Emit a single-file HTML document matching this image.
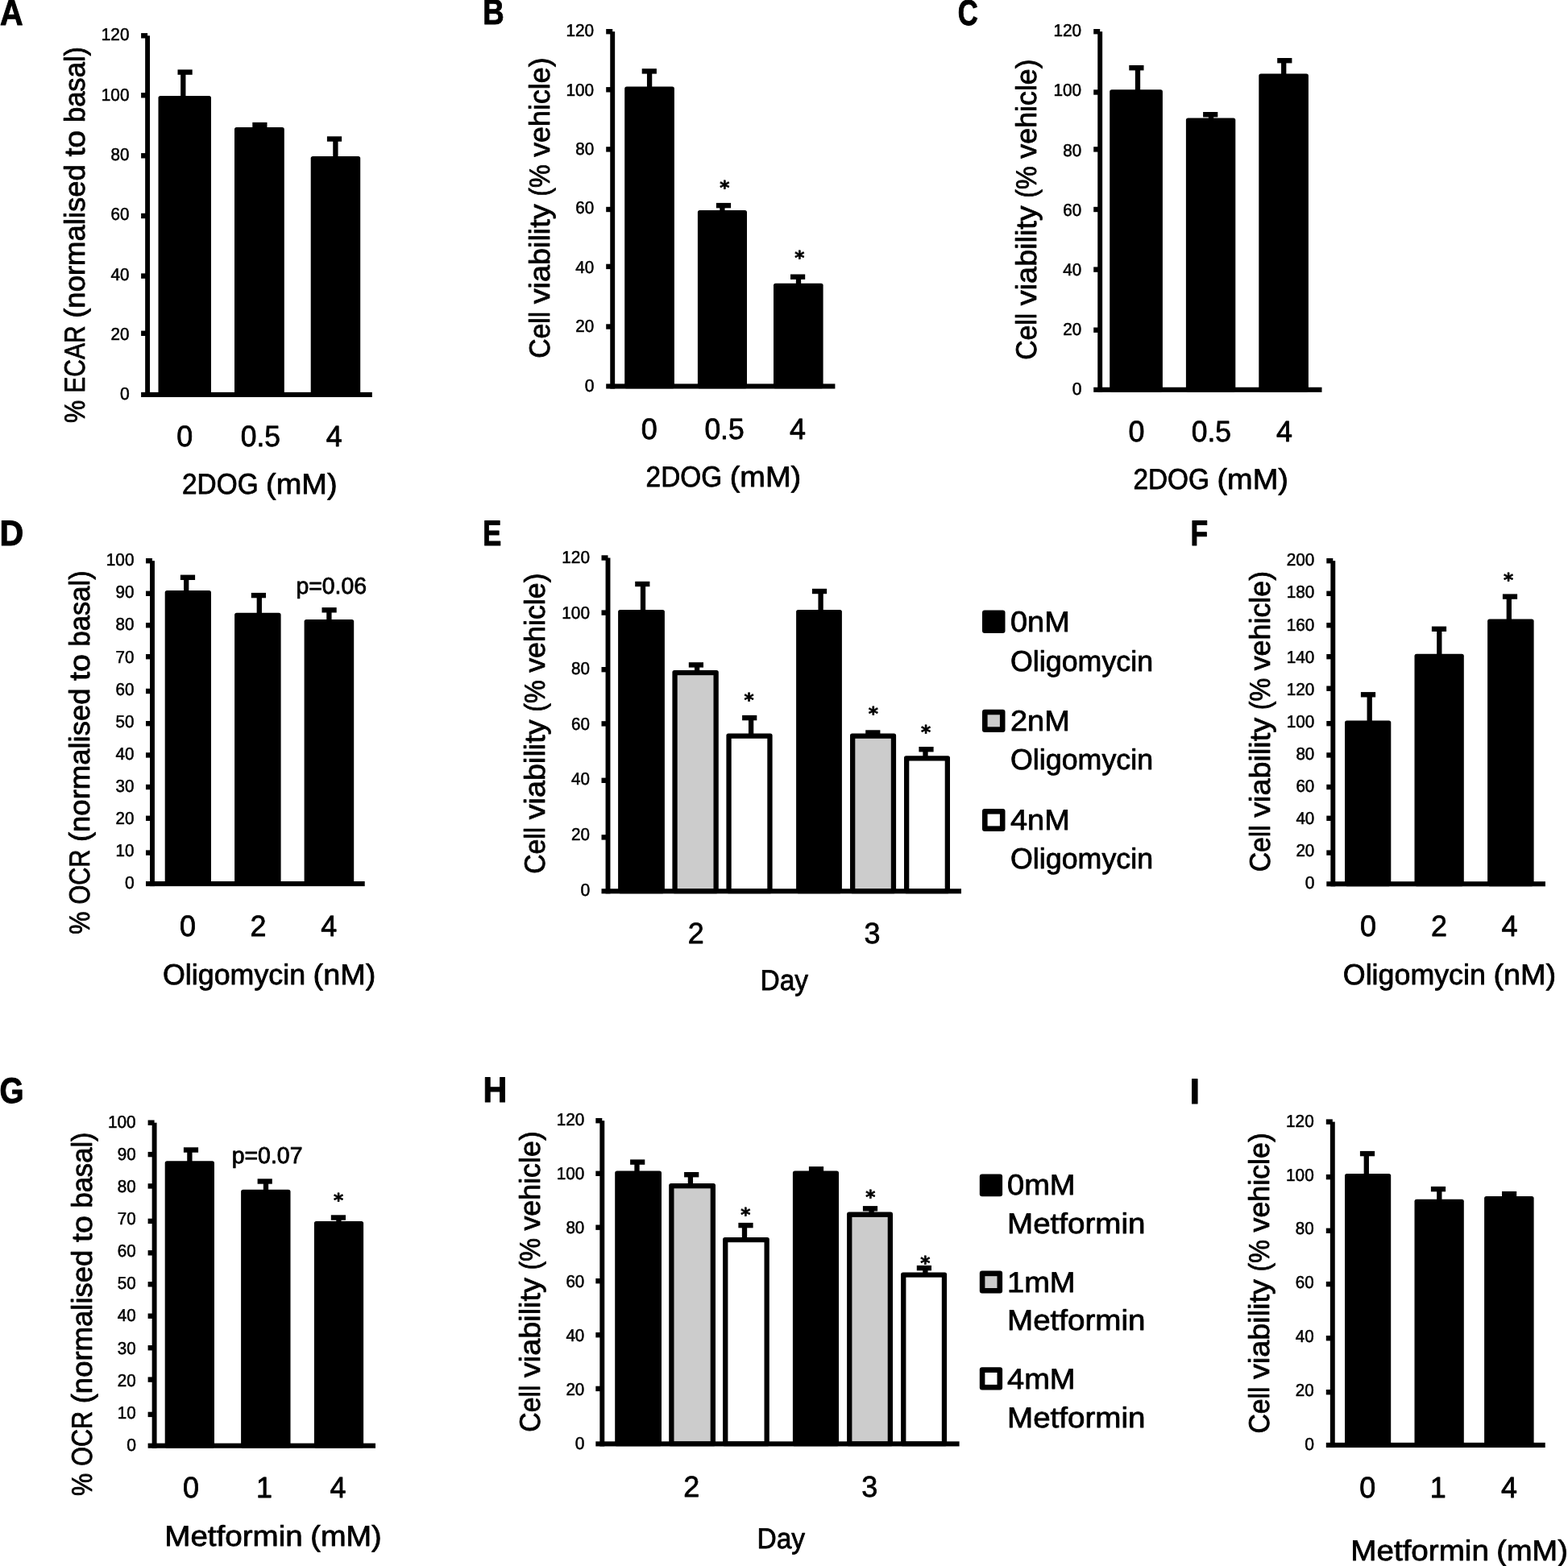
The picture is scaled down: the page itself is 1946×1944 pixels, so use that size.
<!DOCTYPE html>
<html lang="en">
<head>
<meta charset="utf-8">
<title>Figure: 2DOG, Oligomycin and Metformin bar charts</title>
<style>
html,body{margin:0;padding:0;background:#fff;}
body{width:1946px;height:1944px;overflow:hidden;}
svg{display:block;}
svg text{font-family:'Liberation Sans', sans-serif;fill:#000;text-rendering:geometricPrecision;stroke:#000;stroke-width:0.8px;stroke-linejoin:round;}
svg text.t{stroke-width:0.55px;}
svg text.b{stroke-width:1px;}
svg text.a{font-family:'DejaVu Sans','Liberation Sans',sans-serif;font-weight:bold;stroke-width:0.7px;}
</style>
</head>
<body>
<svg width="1946" height="1944" viewBox="0 0 1946 1944">
<rect width="1946" height="1944" fill="#fff"/>
<g id="panel-A">
<text y="30.6" font-size="44.37" font-weight="bold" class="b"><tspan x="0.08" textLength="28.6" lengthAdjust="spacingAndGlyphs">A</tspan></text>
<rect x="224.15" y="87.9" width="6.3" height="34.1" fill="#000"/>
<rect x="220.5" y="86.4" width="18.2" height="6.4" fill="#000"/>
<rect x="196.5" y="119" width="65.5" height="373.8" fill="#000" rx="2.6"/>
<rect x="319.25" y="153.4" width="6.3" height="7.7" fill="#000"/>
<rect x="313.3" y="151.9" width="18.2" height="6.4" fill="#000"/>
<rect x="291" y="158.1" width="61.8" height="334.7" fill="#000" rx="2.6"/>
<rect x="413.25" y="170.8" width="6.3" height="26.1" fill="#000"/>
<rect x="405.9" y="169.3" width="18.2" height="6.4" fill="#000"/>
<rect x="385.7" y="193.9" width="61.5" height="298.9" fill="#000" rx="2.6"/>
<rect x="180.15" y="44.3" width="5.9" height="448.7" fill="#000"/>
<rect x="175.1" y="486.9" width="286.7" height="6.1" fill="#000"/>
<text y="496.05" font-size="21.58" class="t"><tspan x="148.96" textLength="11.76" lengthAdjust="spacingAndGlyphs">0</tspan></text>
<rect x="175.1" y="410.6" width="8" height="6.4" fill="#000"/>
<text y="421.78" font-size="21.58" class="t"><tspan x="137.49" textLength="22.92" lengthAdjust="spacingAndGlyphs">20</tspan></text>
<rect x="175.1" y="339.4" width="8" height="6.4" fill="#000"/>
<text y="347.5" font-size="21.58" class="t"><tspan x="137.49" textLength="22.92" lengthAdjust="spacingAndGlyphs">40</tspan></text>
<rect x="175.1" y="264.8" width="8" height="6.4" fill="#000"/>
<text y="273.23" font-size="21.58" class="t"><tspan x="137.49" textLength="22.92" lengthAdjust="spacingAndGlyphs">60</tspan></text>
<rect x="175.1" y="190.1" width="8" height="6.4" fill="#000"/>
<text y="198.95" font-size="21.58" class="t"><tspan x="137.49" textLength="22.92" lengthAdjust="spacingAndGlyphs">80</tspan></text>
<rect x="175.1" y="115.1" width="8" height="6.4" fill="#000"/>
<text y="124.67" font-size="21.58" class="t"><tspan x="125.77" textLength="34.68" lengthAdjust="spacingAndGlyphs">100</tspan></text>
<rect x="175.1" y="41.1" width="8" height="6.4" fill="#000"/>
<text y="50.4" font-size="21.58" class="t"><tspan x="125.77" textLength="34.68" lengthAdjust="spacingAndGlyphs">120</tspan></text>
<text y="554.3" font-size="36.64"><tspan x="219.15" textLength="19.97" lengthAdjust="spacingAndGlyphs">0</tspan></text>
<text y="554.3" font-size="36.64"><tspan x="298.72" textLength="49.29" lengthAdjust="spacingAndGlyphs">0.5</tspan></text>
<text y="554.3" font-size="36.64"><tspan x="404.8" textLength="19.97" lengthAdjust="spacingAndGlyphs">4</tspan></text>
<text y="613.1" font-size="35.85"><tspan x="226.06" textLength="94.55" lengthAdjust="spacingAndGlyphs">2DOG</tspan> <tspan x="330.12" textLength="88.46" lengthAdjust="spacingAndGlyphs">(mM)</tspan></text>
<text y="0" font-size="35.85" transform="translate(105 523.8) rotate(-90)"><tspan x="-1.28" textLength="28.16" lengthAdjust="spacingAndGlyphs">%</tspan> <tspan x="36.09" textLength="83.38" lengthAdjust="spacingAndGlyphs">ECAR</tspan> <tspan x="128.98" textLength="190.71" lengthAdjust="spacingAndGlyphs">(normalised</tspan> <tspan x="329.19" textLength="32.99" lengthAdjust="spacingAndGlyphs">to</tspan> <tspan x="371.69" textLength="94.25" lengthAdjust="spacingAndGlyphs">basal)</tspan></text>
</g>
<g id="panel-B">
<text y="30.4" font-size="44.37" font-weight="bold" class="b"><tspan x="599.29" textLength="26.46" lengthAdjust="spacingAndGlyphs">B</tspan></text>
<rect x="802.95" y="86.7" width="6.3" height="23.7" fill="#000"/>
<rect x="796.7" y="85.2" width="18.2" height="6.4" fill="#000"/>
<rect x="775.2" y="107.4" width="61.7" height="374.95" fill="#000" rx="2.6"/>
<rect x="893.25" y="253.4" width="6.3" height="10.5" fill="#000"/>
<rect x="888.9" y="251.9" width="18.2" height="6.4" fill="#000"/>
<rect x="865.9" y="260.9" width="61.1" height="221.45" fill="#000" rx="2.6"/>
<rect x="987.85" y="342" width="6.3" height="12.7" fill="#000"/>
<rect x="981" y="340.5" width="18.2" height="6.4" fill="#000"/>
<rect x="960" y="351.7" width="61.6" height="130.65" fill="#000" rx="2.6"/>
<rect x="757.25" y="39.2" width="5.9" height="443.35" fill="#000"/>
<rect x="752.2" y="476.45" width="284.2" height="6.1" fill="#000"/>
<text y="485.6" font-size="21.58" class="t"><tspan x="725.66" textLength="11.76" lengthAdjust="spacingAndGlyphs">0</tspan></text>
<rect x="752.2" y="402.3" width="8" height="6.4" fill="#000"/>
<text y="412.22" font-size="21.58" class="t"><tspan x="714.19" textLength="22.92" lengthAdjust="spacingAndGlyphs">20</tspan></text>
<rect x="752.2" y="327.7" width="8" height="6.4" fill="#000"/>
<text y="338.83" font-size="21.58" class="t"><tspan x="714.19" textLength="22.92" lengthAdjust="spacingAndGlyphs">40</tspan></text>
<rect x="752.2" y="256.8" width="8" height="6.4" fill="#000"/>
<text y="265.45" font-size="21.58" class="t"><tspan x="714.19" textLength="22.92" lengthAdjust="spacingAndGlyphs">60</tspan></text>
<rect x="752.2" y="182.2" width="8" height="6.4" fill="#000"/>
<text y="192.07" font-size="21.58" class="t"><tspan x="714.19" textLength="22.92" lengthAdjust="spacingAndGlyphs">80</tspan></text>
<rect x="752.2" y="108.1" width="8" height="6.4" fill="#000"/>
<text y="118.68" font-size="21.58" class="t"><tspan x="702.47" textLength="34.68" lengthAdjust="spacingAndGlyphs">100</tspan></text>
<rect x="752.2" y="36" width="8" height="6.4" fill="#000"/>
<text y="45.3" font-size="21.58" class="t"><tspan x="702.47" textLength="34.68" lengthAdjust="spacingAndGlyphs">120</tspan></text>
<text y="544.8" font-size="36.64"><tspan x="795.85" textLength="19.97" lengthAdjust="spacingAndGlyphs">0</tspan></text>
<text y="544.8" font-size="36.64"><tspan x="874.42" textLength="49.29" lengthAdjust="spacingAndGlyphs">0.5</tspan></text>
<text y="544.8" font-size="36.64"><tspan x="979.9" textLength="19.97" lengthAdjust="spacingAndGlyphs">4</tspan></text>
<text y="603.7" font-size="35.85"><tspan x="801.61" textLength="94.55" lengthAdjust="spacingAndGlyphs">2DOG</tspan> <tspan x="905.67" textLength="88.46" lengthAdjust="spacingAndGlyphs">(mM)</tspan></text>
<text y="0" font-size="35.85" transform="translate(681.8 443.9) rotate(-90)"><tspan x="-0.98" textLength="58.1" lengthAdjust="spacingAndGlyphs">Cell</tspan> <tspan x="66.62" textLength="123.97" lengthAdjust="spacingAndGlyphs">viability</tspan> <tspan x="200.1" textLength="39.51" lengthAdjust="spacingAndGlyphs">(%</tspan> <tspan x="249.12" textLength="123.41" lengthAdjust="spacingAndGlyphs">vehicle)</tspan></text>
<text class="a" x="899.2" y="240.83" font-size="23.2" text-anchor="middle">*</text>
<text class="a" x="992.4" y="327.83" font-size="23.2" text-anchor="middle">*</text>
</g>
<g id="panel-C">
<text y="30.5" font-size="44.37" font-weight="bold" class="b"><tspan x="1188.66" textLength="24.98" lengthAdjust="spacingAndGlyphs">C</tspan></text>
<rect x="1408.85" y="82.5" width="6.3" height="31.7" fill="#000"/>
<rect x="1401.3" y="81" width="18.2" height="6.4" fill="#000"/>
<rect x="1377.2" y="111.2" width="65.7" height="375.45" fill="#000" rx="2.6"/>
<rect x="1499.85" y="140.5" width="6.3" height="9" fill="#000"/>
<rect x="1493.1" y="139" width="18.2" height="6.4" fill="#000"/>
<rect x="1471.9" y="146.5" width="61.4" height="340.15" fill="#000" rx="2.6"/>
<rect x="1590.05" y="73.5" width="6.3" height="20.9" fill="#000"/>
<rect x="1585.2" y="72" width="18.2" height="6.4" fill="#000"/>
<rect x="1562.3" y="91.4" width="61.6" height="395.25" fill="#000" rx="2.6"/>
<rect x="1362.25" y="39.2" width="5.9" height="447.65" fill="#000"/>
<rect x="1357.2" y="480.75" width="283.3" height="6.1" fill="#000"/>
<text y="489.9" font-size="21.58" class="t"><tspan x="1330.66" textLength="11.76" lengthAdjust="spacingAndGlyphs">0</tspan></text>
<rect x="1357.2" y="406.5" width="8" height="6.4" fill="#000"/>
<text y="415.8" font-size="21.58" class="t"><tspan x="1319.19" textLength="22.92" lengthAdjust="spacingAndGlyphs">20</tspan></text>
<rect x="1357.2" y="331.4" width="8" height="6.4" fill="#000"/>
<text y="341.7" font-size="21.58" class="t"><tspan x="1319.19" textLength="22.92" lengthAdjust="spacingAndGlyphs">40</tspan></text>
<rect x="1357.2" y="256.8" width="8" height="6.4" fill="#000"/>
<text y="267.6" font-size="21.58" class="t"><tspan x="1319.19" textLength="22.92" lengthAdjust="spacingAndGlyphs">60</tspan></text>
<rect x="1357.2" y="182.2" width="8" height="6.4" fill="#000"/>
<text y="193.5" font-size="21.58" class="t"><tspan x="1319.19" textLength="22.92" lengthAdjust="spacingAndGlyphs">80</tspan></text>
<rect x="1357.2" y="111.3" width="8" height="6.4" fill="#000"/>
<text y="119.4" font-size="21.58" class="t"><tspan x="1307.47" textLength="34.68" lengthAdjust="spacingAndGlyphs">100</tspan></text>
<rect x="1357.2" y="36" width="8" height="6.4" fill="#000"/>
<text y="45.3" font-size="21.58" class="t"><tspan x="1307.47" textLength="34.68" lengthAdjust="spacingAndGlyphs">120</tspan></text>
<text y="548.3" font-size="36.64"><tspan x="1400.45" textLength="19.97" lengthAdjust="spacingAndGlyphs">0</tspan></text>
<text y="548.3" font-size="36.64"><tspan x="1478.72" textLength="49.29" lengthAdjust="spacingAndGlyphs">0.5</tspan></text>
<text y="548.3" font-size="36.64"><tspan x="1583.9" textLength="19.97" lengthAdjust="spacingAndGlyphs">4</tspan></text>
<text y="607.4" font-size="35.85"><tspan x="1406.41" textLength="94.55" lengthAdjust="spacingAndGlyphs">2DOG</tspan> <tspan x="1510.47" textLength="88.46" lengthAdjust="spacingAndGlyphs">(mM)</tspan></text>
<text y="0" font-size="35.85" transform="translate(1286.3 445.8) rotate(-90)"><tspan x="-0.98" textLength="58.1" lengthAdjust="spacingAndGlyphs">Cell</tspan> <tspan x="66.62" textLength="123.97" lengthAdjust="spacingAndGlyphs">viability</tspan> <tspan x="200.1" textLength="39.51" lengthAdjust="spacingAndGlyphs">(%</tspan> <tspan x="249.12" textLength="123.41" lengthAdjust="spacingAndGlyphs">vehicle)</tspan></text>
</g>
<g id="panel-D">
<text y="677" font-size="44.37" font-weight="bold" class="b"><tspan x="-0.51" textLength="29.75" lengthAdjust="spacingAndGlyphs">D</tspan></text>
<rect x="228.05" y="715.1" width="6.3" height="21" fill="#000"/>
<rect x="223.9" y="713.6" width="18.2" height="6.4" fill="#000"/>
<rect x="204.7" y="733.1" width="57.3" height="366.85" fill="#000" rx="2.6"/>
<rect x="318.65" y="737.4" width="6.3" height="26.3" fill="#000"/>
<rect x="311.8" y="735.9" width="18.2" height="6.4" fill="#000"/>
<rect x="291.1" y="760.7" width="57.5" height="339.25" fill="#000" rx="2.6"/>
<rect x="405.25" y="755.6" width="6.3" height="16.3" fill="#000"/>
<rect x="399.5" y="754.1" width="18.2" height="6.4" fill="#000"/>
<rect x="377.6" y="768.9" width="61.6" height="331.05" fill="#000" rx="2.6"/>
<rect x="186.05" y="696.2" width="5.9" height="403.95" fill="#000"/>
<rect x="181" y="1094.05" width="271.7" height="6.1" fill="#000"/>
<text y="1103.2" font-size="21.58" class="t"><tspan x="154.96" textLength="11.76" lengthAdjust="spacingAndGlyphs">0</tspan></text>
<rect x="181" y="1055.4" width="8" height="6.4" fill="#000"/>
<text y="1063.11" font-size="21.58" class="t"><tspan x="143.49" textLength="22.92" lengthAdjust="spacingAndGlyphs">10</tspan></text>
<rect x="181" y="1012.6" width="8" height="6.4" fill="#000"/>
<text y="1023.02" font-size="21.58" class="t"><tspan x="143.49" textLength="22.92" lengthAdjust="spacingAndGlyphs">20</tspan></text>
<rect x="181" y="973.8" width="8" height="6.4" fill="#000"/>
<text y="982.93" font-size="21.58" class="t"><tspan x="143.49" textLength="22.92" lengthAdjust="spacingAndGlyphs">30</tspan></text>
<rect x="181" y="934.2" width="8" height="6.4" fill="#000"/>
<text y="942.84" font-size="21.58" class="t"><tspan x="143.49" textLength="22.92" lengthAdjust="spacingAndGlyphs">40</tspan></text>
<rect x="181" y="895" width="8" height="6.4" fill="#000"/>
<text y="902.75" font-size="21.58" class="t"><tspan x="143.49" textLength="22.92" lengthAdjust="spacingAndGlyphs">50</tspan></text>
<rect x="181" y="854.8" width="8" height="6.4" fill="#000"/>
<text y="862.66" font-size="21.58" class="t"><tspan x="143.49" textLength="22.92" lengthAdjust="spacingAndGlyphs">60</tspan></text>
<rect x="181" y="812" width="8" height="6.4" fill="#000"/>
<text y="822.57" font-size="21.58" class="t"><tspan x="143.49" textLength="22.92" lengthAdjust="spacingAndGlyphs">70</tspan></text>
<rect x="181" y="773" width="8" height="6.4" fill="#000"/>
<text y="782.48" font-size="21.58" class="t"><tspan x="143.49" textLength="22.92" lengthAdjust="spacingAndGlyphs">80</tspan></text>
<rect x="181" y="733.6" width="8" height="6.4" fill="#000"/>
<text y="742.39" font-size="21.58" class="t"><tspan x="143.49" textLength="22.92" lengthAdjust="spacingAndGlyphs">90</tspan></text>
<rect x="181" y="693" width="8" height="6.4" fill="#000"/>
<text y="702.3" font-size="21.58" class="t"><tspan x="131.77" textLength="34.68" lengthAdjust="spacingAndGlyphs">100</tspan></text>
<text y="1161.9" font-size="36.64"><tspan x="223.05" textLength="19.97" lengthAdjust="spacingAndGlyphs">0</tspan></text>
<text y="1161.9" font-size="36.64"><tspan x="310.55" textLength="19.97" lengthAdjust="spacingAndGlyphs">2</tspan></text>
<text y="1161.9" font-size="36.64"><tspan x="398.3" textLength="19.97" lengthAdjust="spacingAndGlyphs">4</tspan></text>
<text y="1221.5" font-size="35.85"><tspan x="202.01" textLength="177.1" lengthAdjust="spacingAndGlyphs">Oligomycin</tspan> <tspan x="388.62" textLength="77.68" lengthAdjust="spacingAndGlyphs">(nM)</tspan></text>
<text y="0" font-size="35.85" transform="translate(111 1158.6) rotate(-90)"><tspan x="-1.28" textLength="28.16" lengthAdjust="spacingAndGlyphs">%</tspan> <tspan x="36.09" textLength="67.89" lengthAdjust="spacingAndGlyphs">OCR</tspan> <tspan x="113.49" textLength="190.71" lengthAdjust="spacingAndGlyphs">(normalised</tspan> <tspan x="313.71" textLength="32.99" lengthAdjust="spacingAndGlyphs">to</tspan> <tspan x="356.2" textLength="94.25" lengthAdjust="spacingAndGlyphs">basal)</tspan></text>
<text y="737" font-size="28.76"><tspan x="367.39" textLength="87.77" lengthAdjust="spacingAndGlyphs">p=0.06</tspan></text>
</g>
<g id="panel-E">
<text y="676.7" font-size="44.37" font-weight="bold" class="b"><tspan x="599.29" textLength="23.02" lengthAdjust="spacingAndGlyphs">E</tspan></text>
<rect x="794.85" y="723.3" width="6.3" height="36.6" fill="#000"/>
<rect x="788.2" y="721.8" width="18.2" height="6.4" fill="#000"/>
<rect x="767.1" y="756.9" width="57.8" height="352.25" fill="#000" rx="2.6"/>
<rect x="861.95" y="823.7" width="6.3" height="11.2" fill="#000"/>
<rect x="854.8" y="822.2" width="18.2" height="6.4" fill="#000"/>
<rect x="834.4" y="831.9" width="57.4" height="277.25" fill="#000" rx="2.6"/>
<rect x="840.7" y="838.2" width="44.8" height="265.05" fill="#ccc"/>
<rect x="928.95" y="889.4" width="6.3" height="24.1" fill="#000"/>
<rect x="921.1" y="887.9" width="18.2" height="6.4" fill="#000"/>
<rect x="901.4" y="910.5" width="57.2" height="198.65" fill="#000" rx="2.6"/>
<rect x="907.7" y="916.8" width="44.6" height="186.45" fill="#fff"/>
<rect x="1015.45" y="732.3" width="6.3" height="27.6" fill="#000"/>
<rect x="1007.9" y="730.8" width="18.2" height="6.4" fill="#000"/>
<rect x="988.1" y="756.9" width="56.8" height="352.25" fill="#000" rx="2.6"/>
<rect x="1080.15" y="907.8" width="6.3" height="5.7" fill="#000"/>
<rect x="1074.2" y="906.3" width="18.2" height="6.4" fill="#000"/>
<rect x="1055" y="910.5" width="57.1" height="198.65" fill="#000" rx="2.6"/>
<rect x="1061.3" y="916.8" width="44.5" height="186.45" fill="#ccc"/>
<rect x="1145.35" y="928.5" width="6.3" height="12.7" fill="#000"/>
<rect x="1140.4" y="927" width="18.2" height="6.4" fill="#000"/>
<rect x="1122" y="938.2" width="57" height="170.95" fill="#000" rx="2.6"/>
<rect x="1128.3" y="944.5" width="44.4" height="158.75" fill="#fff"/>
<rect x="751.55" y="692.5" width="5.9" height="416.85" fill="#000"/>
<rect x="746.5" y="1103.25" width="446.5" height="6.1" fill="#000"/>
<text y="1112.4" font-size="21.58" class="t"><tspan x="720.46" textLength="11.76" lengthAdjust="spacingAndGlyphs">0</tspan></text>
<rect x="746.5" y="1036.2" width="8" height="6.4" fill="#000"/>
<text y="1043.43" font-size="21.58" class="t"><tspan x="708.99" textLength="22.92" lengthAdjust="spacingAndGlyphs">20</tspan></text>
<rect x="746.5" y="965.6" width="8" height="6.4" fill="#000"/>
<text y="974.47" font-size="21.58" class="t"><tspan x="708.99" textLength="22.92" lengthAdjust="spacingAndGlyphs">40</tspan></text>
<rect x="746.5" y="895.2" width="8" height="6.4" fill="#000"/>
<text y="905.5" font-size="21.58" class="t"><tspan x="708.99" textLength="22.92" lengthAdjust="spacingAndGlyphs">60</tspan></text>
<rect x="746.5" y="828" width="8" height="6.4" fill="#000"/>
<text y="836.53" font-size="21.58" class="t"><tspan x="708.99" textLength="22.92" lengthAdjust="spacingAndGlyphs">80</tspan></text>
<rect x="746.5" y="757.4" width="8" height="6.4" fill="#000"/>
<text y="767.57" font-size="21.58" class="t"><tspan x="697.27" textLength="34.68" lengthAdjust="spacingAndGlyphs">100</tspan></text>
<rect x="746.5" y="689.3" width="8" height="6.4" fill="#000"/>
<text y="698.6" font-size="21.58" class="t"><tspan x="697.27" textLength="34.68" lengthAdjust="spacingAndGlyphs">120</tspan></text>
<text y="1171.4" font-size="36.64"><tspan x="853.65" textLength="19.97" lengthAdjust="spacingAndGlyphs">2</tspan></text>
<text y="1171.4" font-size="36.64"><tspan x="1072.41" textLength="19.97" lengthAdjust="spacingAndGlyphs">3</tspan></text>
<text y="1229" font-size="35.85"><tspan x="943.53" textLength="59.62" lengthAdjust="spacingAndGlyphs">Day</tspan></text>
<text y="0" font-size="35.85" transform="translate(676 1083.9) rotate(-90)"><tspan x="-0.98" textLength="58.1" lengthAdjust="spacingAndGlyphs">Cell</tspan> <tspan x="66.62" textLength="123.97" lengthAdjust="spacingAndGlyphs">viability</tspan> <tspan x="200.1" textLength="39.51" lengthAdjust="spacingAndGlyphs">(%</tspan> <tspan x="249.12" textLength="123.41" lengthAdjust="spacingAndGlyphs">vehicle)</tspan></text>
<text class="a" x="929.6" y="876.53" font-size="23.2" text-anchor="middle">*</text>
<text class="a" x="1083.7" y="894.03" font-size="23.2" text-anchor="middle">*</text>
<text class="a" x="1149" y="917.03" font-size="23.2" text-anchor="middle">*</text>
<rect x="1219" y="757.6" width="28.5" height="28.4" fill="#000" rx="3"/>
<text y="784.1" font-size="35.85"><tspan x="1254" textLength="73.76" lengthAdjust="spacingAndGlyphs">0nM</tspan></text>
<text y="832.5" font-size="35.85"><tspan x="1254" textLength="177.1" lengthAdjust="spacingAndGlyphs">Oligomycin</tspan></text>
<rect x="1219" y="880.7" width="28.5" height="28.2" fill="#000" rx="3"/>
<rect x="1225.6" y="887.3" width="15.3" height="15" fill="#ccc"/>
<text y="907.1" font-size="35.85"><tspan x="1254" textLength="73.76" lengthAdjust="spacingAndGlyphs">2nM</tspan></text>
<text y="954.7" font-size="35.85"><tspan x="1254" textLength="177.1" lengthAdjust="spacingAndGlyphs">Oligomycin</tspan></text>
<rect x="1219" y="1004" width="28.5" height="28" fill="#000" rx="3"/>
<rect x="1225.6" y="1010.6" width="15.3" height="14.8" fill="#fff"/>
<text y="1029.9" font-size="35.85"><tspan x="1254" textLength="73.76" lengthAdjust="spacingAndGlyphs">4nM</tspan></text>
<text y="1077.7" font-size="35.85"><tspan x="1254" textLength="177.1" lengthAdjust="spacingAndGlyphs">Oligomycin</tspan></text>
</g>
<g id="panel-F">
<text y="676.6" font-size="44.37" font-weight="bold" class="b"><tspan x="1477.42" textLength="21.66" lengthAdjust="spacingAndGlyphs">F</tspan></text>
<rect x="1696.55" y="860.6" width="6.3" height="36.9" fill="#000"/>
<rect x="1688.9" y="859.1" width="18.2" height="6.4" fill="#000"/>
<rect x="1669" y="894.5" width="57.3" height="205.65" fill="#000" rx="2.6"/>
<rect x="1783.15" y="779.1" width="6.3" height="35.6" fill="#000"/>
<rect x="1776.9" y="777.6" width="18.2" height="6.4" fill="#000"/>
<rect x="1755.5" y="811.7" width="61.3" height="288.45" fill="#000" rx="2.6"/>
<rect x="1869.65" y="738.9" width="6.3" height="32.7" fill="#000"/>
<rect x="1864.9" y="737.4" width="18.2" height="6.4" fill="#000"/>
<rect x="1846.1" y="768.6" width="57.5" height="331.55" fill="#000" rx="2.6"/>
<rect x="1651.35" y="696.2" width="5.9" height="404.15" fill="#000"/>
<rect x="1646.3" y="1094.25" width="271.6" height="6.1" fill="#000"/>
<text y="1103.4" font-size="21.58" class="t"><tspan x="1619.86" textLength="11.76" lengthAdjust="spacingAndGlyphs">0</tspan></text>
<rect x="1646.3" y="1055.4" width="8" height="6.4" fill="#000"/>
<text y="1063.29" font-size="21.58" class="t"><tspan x="1608.39" textLength="22.92" lengthAdjust="spacingAndGlyphs">20</tspan></text>
<rect x="1646.3" y="1012.6" width="8" height="6.4" fill="#000"/>
<text y="1023.18" font-size="21.58" class="t"><tspan x="1608.39" textLength="22.92" lengthAdjust="spacingAndGlyphs">40</tspan></text>
<rect x="1646.3" y="973.8" width="8" height="6.4" fill="#000"/>
<text y="983.07" font-size="21.58" class="t"><tspan x="1608.39" textLength="22.92" lengthAdjust="spacingAndGlyphs">60</tspan></text>
<rect x="1646.3" y="934.2" width="8" height="6.4" fill="#000"/>
<text y="942.96" font-size="21.58" class="t"><tspan x="1608.39" textLength="22.92" lengthAdjust="spacingAndGlyphs">80</tspan></text>
<rect x="1646.3" y="895" width="8" height="6.4" fill="#000"/>
<text y="902.85" font-size="21.58" class="t"><tspan x="1596.67" textLength="34.68" lengthAdjust="spacingAndGlyphs">100</tspan></text>
<rect x="1646.3" y="851.5" width="8" height="6.4" fill="#000"/>
<text y="862.74" font-size="21.58" class="t"><tspan x="1596.67" textLength="34.68" lengthAdjust="spacingAndGlyphs">120</tspan></text>
<rect x="1646.3" y="812" width="8" height="6.4" fill="#000"/>
<text y="822.63" font-size="21.58" class="t"><tspan x="1596.67" textLength="34.68" lengthAdjust="spacingAndGlyphs">140</tspan></text>
<rect x="1646.3" y="773" width="8" height="6.4" fill="#000"/>
<text y="782.52" font-size="21.58" class="t"><tspan x="1596.67" textLength="34.68" lengthAdjust="spacingAndGlyphs">160</tspan></text>
<rect x="1646.3" y="733.6" width="8" height="6.4" fill="#000"/>
<text y="742.41" font-size="21.58" class="t"><tspan x="1596.67" textLength="34.68" lengthAdjust="spacingAndGlyphs">180</tspan></text>
<rect x="1646.3" y="693" width="8" height="6.4" fill="#000"/>
<text y="702.3" font-size="21.58" class="t"><tspan x="1596.67" textLength="34.68" lengthAdjust="spacingAndGlyphs">200</tspan></text>
<text y="1161.9" font-size="36.64"><tspan x="1687.95" textLength="19.97" lengthAdjust="spacingAndGlyphs">0</tspan></text>
<text y="1161.9" font-size="36.64"><tspan x="1776.05" textLength="19.97" lengthAdjust="spacingAndGlyphs">2</tspan></text>
<text y="1161.9" font-size="36.64"><tspan x="1863.5" textLength="19.97" lengthAdjust="spacingAndGlyphs">4</tspan></text>
<text y="1221.5" font-size="35.85"><tspan x="1666.81" textLength="177.1" lengthAdjust="spacingAndGlyphs">Oligomycin</tspan> <tspan x="1853.42" textLength="77.68" lengthAdjust="spacingAndGlyphs">(nM)</tspan></text>
<text y="0" font-size="35.85" transform="translate(1575.9 1081.4) rotate(-90)"><tspan x="-0.98" textLength="58.1" lengthAdjust="spacingAndGlyphs">Cell</tspan> <tspan x="66.62" textLength="123.97" lengthAdjust="spacingAndGlyphs">viability</tspan> <tspan x="200.1" textLength="39.51" lengthAdjust="spacingAndGlyphs">(%</tspan> <tspan x="249.12" textLength="123.41" lengthAdjust="spacingAndGlyphs">vehicle)</tspan></text>
<text class="a" x="1872.1" y="727.93" font-size="23.2" text-anchor="middle">*</text>
</g>
<g id="panel-G">
<text y="1369.1" font-size="44.37" font-weight="bold" class="b"><tspan x="-0.4" textLength="30.08" lengthAdjust="spacingAndGlyphs">G</tspan></text>
<rect x="232.25" y="1425.8" width="6.3" height="18.5" fill="#000"/>
<rect x="227.9" y="1424.3" width="18.2" height="6.4" fill="#000"/>
<rect x="204.7" y="1441.3" width="61.3" height="356.25" fill="#000" rx="2.6"/>
<rect x="326.85" y="1464.8" width="6.3" height="15" fill="#000"/>
<rect x="319.6" y="1463.3" width="18.2" height="6.4" fill="#000"/>
<rect x="299.1" y="1476.8" width="61.4" height="320.75" fill="#000" rx="2.6"/>
<rect x="417.25" y="1509.8" width="6.3" height="9.1" fill="#000"/>
<rect x="410.8" y="1508.3" width="18.2" height="6.4" fill="#000"/>
<rect x="389.9" y="1515.9" width="61.2" height="281.65" fill="#000" rx="2.6"/>
<rect x="188.65" y="1393.7" width="5.9" height="404.05" fill="#000"/>
<rect x="183.6" y="1791.65" width="282.4" height="6.1" fill="#000"/>
<text y="1800.8" font-size="21.58" class="t"><tspan x="157.16" textLength="11.76" lengthAdjust="spacingAndGlyphs">0</tspan></text>
<rect x="183.6" y="1752.7" width="8" height="6.4" fill="#000"/>
<text y="1760.7" font-size="21.58" class="t"><tspan x="145.69" textLength="22.92" lengthAdjust="spacingAndGlyphs">10</tspan></text>
<rect x="183.6" y="1709.4" width="8" height="6.4" fill="#000"/>
<text y="1720.6" font-size="21.58" class="t"><tspan x="145.69" textLength="22.92" lengthAdjust="spacingAndGlyphs">20</tspan></text>
<rect x="183.6" y="1670" width="8" height="6.4" fill="#000"/>
<text y="1680.5" font-size="21.58" class="t"><tspan x="145.69" textLength="22.92" lengthAdjust="spacingAndGlyphs">30</tspan></text>
<rect x="183.6" y="1630.5" width="8" height="6.4" fill="#000"/>
<text y="1640.4" font-size="21.58" class="t"><tspan x="145.69" textLength="22.92" lengthAdjust="spacingAndGlyphs">40</tspan></text>
<rect x="183.6" y="1591.1" width="8" height="6.4" fill="#000"/>
<text y="1600.3" font-size="21.58" class="t"><tspan x="145.69" textLength="22.92" lengthAdjust="spacingAndGlyphs">50</tspan></text>
<rect x="183.6" y="1552.1" width="8" height="6.4" fill="#000"/>
<text y="1560.2" font-size="21.58" class="t"><tspan x="145.69" textLength="22.92" lengthAdjust="spacingAndGlyphs">60</tspan></text>
<rect x="183.6" y="1512.7" width="8" height="6.4" fill="#000"/>
<text y="1520.1" font-size="21.58" class="t"><tspan x="145.69" textLength="22.92" lengthAdjust="spacingAndGlyphs">70</tspan></text>
<rect x="183.6" y="1469.2" width="8" height="6.4" fill="#000"/>
<text y="1480" font-size="21.58" class="t"><tspan x="145.69" textLength="22.92" lengthAdjust="spacingAndGlyphs">80</tspan></text>
<rect x="183.6" y="1429.9" width="8" height="6.4" fill="#000"/>
<text y="1439.9" font-size="21.58" class="t"><tspan x="145.69" textLength="22.92" lengthAdjust="spacingAndGlyphs">90</tspan></text>
<rect x="183.6" y="1390.5" width="8" height="6.4" fill="#000"/>
<text y="1399.8" font-size="21.58" class="t"><tspan x="133.97" textLength="34.68" lengthAdjust="spacingAndGlyphs">100</tspan></text>
<text y="1859.2" font-size="36.64"><tspan x="227.05" textLength="19.97" lengthAdjust="spacingAndGlyphs">0</tspan></text>
<text y="1859.2" font-size="36.64"><tspan x="318.06" textLength="19.97" lengthAdjust="spacingAndGlyphs">1</tspan></text>
<text y="1859.2" font-size="36.64"><tspan x="409.5" textLength="19.97" lengthAdjust="spacingAndGlyphs">4</tspan></text>
<text y="1918.8" font-size="35.85"><tspan x="204.26" textLength="171.51" lengthAdjust="spacingAndGlyphs">Metformin</tspan> <tspan x="385.28" textLength="88.46" lengthAdjust="spacingAndGlyphs">(mM)</tspan></text>
<text y="0" font-size="35.85" transform="translate(113.6 1855.8) rotate(-90)"><tspan x="-1.28" textLength="28.16" lengthAdjust="spacingAndGlyphs">%</tspan> <tspan x="36.09" textLength="67.89" lengthAdjust="spacingAndGlyphs">OCR</tspan> <tspan x="113.49" textLength="190.71" lengthAdjust="spacingAndGlyphs">(normalised</tspan> <tspan x="313.71" textLength="32.99" lengthAdjust="spacingAndGlyphs">to</tspan> <tspan x="356.2" textLength="94.25" lengthAdjust="spacingAndGlyphs">basal)</tspan></text>
<text y="1443.5" font-size="28.76"><tspan x="287.69" textLength="87.77" lengthAdjust="spacingAndGlyphs">p=0.07</tspan></text>
<text class="a" x="420" y="1498.23" font-size="23.2" text-anchor="middle">*</text>
</g>
<g id="panel-H">
<text y="1368.1" font-size="44.37" font-weight="bold" class="b"><tspan x="599.4" textLength="29.78" lengthAdjust="spacingAndGlyphs">H</tspan></text>
<rect x="787.35" y="1440.9" width="6.3" height="15.5" fill="#000"/>
<rect x="782.1" y="1439.4" width="18.2" height="6.4" fill="#000"/>
<rect x="763.2" y="1453.4" width="57.8" height="341.85" fill="#000" rx="2.6"/>
<rect x="853.75" y="1456.5" width="6.3" height="15.5" fill="#000"/>
<rect x="849.1" y="1455" width="18.2" height="6.4" fill="#000"/>
<rect x="830.2" y="1469" width="57.8" height="326.25" fill="#000" rx="2.6"/>
<rect x="836.5" y="1475.3" width="45.2" height="314.05" fill="#ccc"/>
<rect x="920.85" y="1519.4" width="6.3" height="19.5" fill="#000"/>
<rect x="916.4" y="1517.9" width="18.2" height="6.4" fill="#000"/>
<rect x="897.1" y="1535.9" width="57.7" height="259.35" fill="#000" rx="2.6"/>
<rect x="903.4" y="1542.2" width="45.1" height="247.15" fill="#fff"/>
<rect x="1009.85" y="1449.6" width="6.3" height="6.8" fill="#000"/>
<rect x="1003.9" y="1448.1" width="18.2" height="6.4" fill="#000"/>
<rect x="983.9" y="1453.4" width="57.1" height="341.85" fill="#000" rx="2.6"/>
<rect x="1078.45" y="1498.6" width="6.3" height="9" fill="#000"/>
<rect x="1070.9" y="1497.1" width="18.2" height="6.4" fill="#000"/>
<rect x="1051.1" y="1504.6" width="56.9" height="290.65" fill="#000" rx="2.6"/>
<rect x="1057.4" y="1510.9" width="44.3" height="278.45" fill="#ccc"/>
<rect x="1145.25" y="1572.4" width="6.3" height="10" fill="#000"/>
<rect x="1137.8" y="1570.9" width="18.2" height="6.4" fill="#000"/>
<rect x="1118.1" y="1579.4" width="57" height="215.85" fill="#000" rx="2.6"/>
<rect x="1124.4" y="1585.7" width="44.4" height="203.65" fill="#fff"/>
<rect x="744.35" y="1391.2" width="5.9" height="404.25" fill="#000"/>
<rect x="739.3" y="1789.35" width="451.3" height="6.1" fill="#000"/>
<text y="1798.5" font-size="21.58" class="t"><tspan x="713.86" textLength="11.76" lengthAdjust="spacingAndGlyphs">0</tspan></text>
<rect x="739.3" y="1720.7" width="8" height="6.4" fill="#000"/>
<text y="1731.63" font-size="21.58" class="t"><tspan x="702.39" textLength="22.92" lengthAdjust="spacingAndGlyphs">20</tspan></text>
<rect x="739.3" y="1654" width="8" height="6.4" fill="#000"/>
<text y="1664.77" font-size="21.58" class="t"><tspan x="702.39" textLength="22.92" lengthAdjust="spacingAndGlyphs">40</tspan></text>
<rect x="739.3" y="1587" width="8" height="6.4" fill="#000"/>
<text y="1597.9" font-size="21.58" class="t"><tspan x="702.39" textLength="22.92" lengthAdjust="spacingAndGlyphs">60</tspan></text>
<rect x="739.3" y="1520.5" width="8" height="6.4" fill="#000"/>
<text y="1531.03" font-size="21.58" class="t"><tspan x="702.39" textLength="22.92" lengthAdjust="spacingAndGlyphs">80</tspan></text>
<rect x="739.3" y="1453.6" width="8" height="6.4" fill="#000"/>
<text y="1464.17" font-size="21.58" class="t"><tspan x="690.67" textLength="34.68" lengthAdjust="spacingAndGlyphs">100</tspan></text>
<rect x="739.3" y="1388" width="8" height="6.4" fill="#000"/>
<text y="1397.3" font-size="21.58" class="t"><tspan x="690.67" textLength="34.68" lengthAdjust="spacingAndGlyphs">120</tspan></text>
<text y="1857.5" font-size="36.64"><tspan x="848.15" textLength="19.97" lengthAdjust="spacingAndGlyphs">2</tspan></text>
<text y="1857.5" font-size="36.64"><tspan x="1069.21" textLength="19.97" lengthAdjust="spacingAndGlyphs">3</tspan></text>
<text y="1922.1" font-size="35.85"><tspan x="939.53" textLength="59.62" lengthAdjust="spacingAndGlyphs">Day</tspan></text>
<text y="0" font-size="35.85" transform="translate(669.8 1776.7) rotate(-90)"><tspan x="-0.98" textLength="58.1" lengthAdjust="spacingAndGlyphs">Cell</tspan> <tspan x="66.62" textLength="123.97" lengthAdjust="spacingAndGlyphs">viability</tspan> <tspan x="200.1" textLength="39.51" lengthAdjust="spacingAndGlyphs">(%</tspan> <tspan x="249.12" textLength="123.41" lengthAdjust="spacingAndGlyphs">vehicle)</tspan></text>
<text class="a" x="925.3" y="1515.83" font-size="23.2" text-anchor="middle">*</text>
<text class="a" x="1080.3" y="1493.93" font-size="23.2" text-anchor="middle">*</text>
<text class="a" x="1148.4" y="1576.03" font-size="23.2" text-anchor="middle">*</text>
<rect x="1215.8" y="1457.4" width="28.3" height="27.9" fill="#000" rx="3"/>
<text y="1483.2" font-size="35.85"><tspan x="1250" textLength="84.53" lengthAdjust="spacingAndGlyphs">0mM</tspan></text>
<text y="1531.3" font-size="35.85"><tspan x="1250" textLength="171.51" lengthAdjust="spacingAndGlyphs">Metformin</tspan></text>
<rect x="1215.8" y="1577.6" width="28.3" height="28" fill="#000" rx="3"/>
<rect x="1222.4" y="1584.2" width="15.1" height="14.8" fill="#ccc"/>
<text y="1604" font-size="35.85"><tspan x="1250" textLength="84.53" lengthAdjust="spacingAndGlyphs">1mM</tspan></text>
<text y="1651" font-size="35.85"><tspan x="1250" textLength="171.51" lengthAdjust="spacingAndGlyphs">Metformin</tspan></text>
<rect x="1215.8" y="1697.3" width="28.3" height="28.2" fill="#000" rx="3"/>
<rect x="1222.4" y="1703.9" width="15.1" height="15" fill="#fff"/>
<text y="1723.7" font-size="35.85"><tspan x="1250" textLength="84.53" lengthAdjust="spacingAndGlyphs">4mM</tspan></text>
<text y="1771.9" font-size="35.85"><tspan x="1250" textLength="171.51" lengthAdjust="spacingAndGlyphs">Metformin</tspan></text>
</g>
<g id="panel-I">
<text y="1369.9" font-size="44.37" font-weight="bold" class="b"><tspan x="1476.6" textLength="12.58" lengthAdjust="spacingAndGlyphs">I</tspan></text>
<rect x="1692.65" y="1430.4" width="6.3" height="29.7" fill="#000"/>
<rect x="1687.9" y="1428.9" width="18.2" height="6.4" fill="#000"/>
<rect x="1669" y="1457.1" width="57.2" height="339.65" fill="#000" rx="2.6"/>
<rect x="1783.15" y="1474.4" width="6.3" height="17.3" fill="#000"/>
<rect x="1775.9" y="1472.9" width="18.2" height="6.4" fill="#000"/>
<rect x="1755.5" y="1488.7" width="61.3" height="308.05" fill="#000" rx="2.6"/>
<rect x="1869.95" y="1480.4" width="6.3" height="7.6" fill="#000"/>
<rect x="1864" y="1478.9" width="18.2" height="6.4" fill="#000"/>
<rect x="1842.1" y="1485" width="61.5" height="311.75" fill="#000" rx="2.6"/>
<rect x="1650.85" y="1392.6" width="5.9" height="404.35" fill="#000"/>
<rect x="1645.8" y="1790.85" width="271.9" height="6.1" fill="#000"/>
<text y="1800" font-size="21.58" class="t"><tspan x="1619.26" textLength="11.76" lengthAdjust="spacingAndGlyphs">0</tspan></text>
<rect x="1645.8" y="1725" width="8" height="6.4" fill="#000"/>
<text y="1733.12" font-size="21.58" class="t"><tspan x="1607.79" textLength="22.92" lengthAdjust="spacingAndGlyphs">20</tspan></text>
<rect x="1645.8" y="1658" width="8" height="6.4" fill="#000"/>
<text y="1666.23" font-size="21.58" class="t"><tspan x="1607.79" textLength="22.92" lengthAdjust="spacingAndGlyphs">40</tspan></text>
<rect x="1645.8" y="1590.9" width="8" height="6.4" fill="#000"/>
<text y="1599.35" font-size="21.58" class="t"><tspan x="1607.79" textLength="22.92" lengthAdjust="spacingAndGlyphs">60</tspan></text>
<rect x="1645.8" y="1524.6" width="8" height="6.4" fill="#000"/>
<text y="1532.47" font-size="21.58" class="t"><tspan x="1607.79" textLength="22.92" lengthAdjust="spacingAndGlyphs">80</tspan></text>
<rect x="1645.8" y="1457.9" width="8" height="6.4" fill="#000"/>
<text y="1465.58" font-size="21.58" class="t"><tspan x="1596.07" textLength="34.68" lengthAdjust="spacingAndGlyphs">100</tspan></text>
<rect x="1645.8" y="1389.4" width="8" height="6.4" fill="#000"/>
<text y="1398.7" font-size="21.58" class="t"><tspan x="1596.07" textLength="34.68" lengthAdjust="spacingAndGlyphs">120</tspan></text>
<text y="1859.2" font-size="36.64"><tspan x="1687.25" textLength="19.97" lengthAdjust="spacingAndGlyphs">0</tspan></text>
<text y="1859.2" font-size="36.64"><tspan x="1774.66" textLength="19.97" lengthAdjust="spacingAndGlyphs">1</tspan></text>
<text y="1859.2" font-size="36.64"><tspan x="1863.1" textLength="19.97" lengthAdjust="spacingAndGlyphs">4</tspan></text>
<text y="1937.3" font-size="35.85"><tspan x="1676.35" textLength="171.51" lengthAdjust="spacingAndGlyphs">Metformin</tspan> <tspan x="1857.37" textLength="88.46" lengthAdjust="spacingAndGlyphs">(mM)</tspan></text>
<text y="0" font-size="35.85" transform="translate(1574.9 1778.6) rotate(-90)"><tspan x="-0.98" textLength="58.1" lengthAdjust="spacingAndGlyphs">Cell</tspan> <tspan x="66.62" textLength="123.97" lengthAdjust="spacingAndGlyphs">viability</tspan> <tspan x="200.1" textLength="39.51" lengthAdjust="spacingAndGlyphs">(%</tspan> <tspan x="249.12" textLength="123.41" lengthAdjust="spacingAndGlyphs">vehicle)</tspan></text>
</g>
</svg>
</body>
</html>
